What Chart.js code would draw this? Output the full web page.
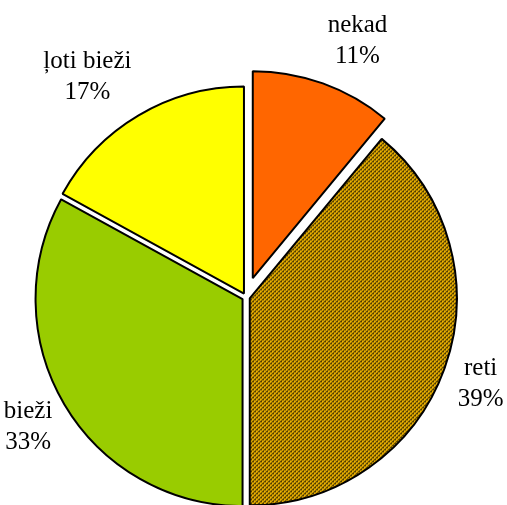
<!DOCTYPE html>
<html>
<head>
<meta charset="utf-8">
<script src="https://cdn.jsdelivr.net/npm/chart.js@4.4.1/dist/chart.umd.min.js"></script>
<style>
  html, body { margin: 0; padding: 0; background: #fff; }
  #wrap { width: 507px; height: 505px; }
</style>
</head>
<body>
<div id="wrap"><canvas id="chart" width="507" height="505"></canvas></div>
<script>
const categories = ['nekad', 'reti', 'bieži', 'ļoti bieži']
const shares = [11, 39, 33, 17]
const sliceColors = ['#FF6600', 'hatch', '#99CC00', '#FFFF00']
const explode = [20, 4, 4, 4]

// fine diagonal hatch for the "reti" slice
const hatch = () => {
  const tile = document.createElement('canvas')
  tile.width = 4
  tile.height = 4
  const t = tile.getContext('2d')
  t.fillStyle = '#EDB200'
  t.fillRect(0, 0, 4, 4)
  t.fillStyle = '#2e2400'
  for (let x = 0; x < 4; x++) {
    for (let y = 0; y < 4; y++) {
      const d = (x + y) % 4
      if (d === 0 || (d === 1 && y % 2 === 0)) t.fillRect(x, y, 1, 1)
    }
  }
  return t.createPattern(tile, 'repeat')
}

const bg = sliceColors.map(c => c === 'hatch' ? hatch() : c)

// pull slices out like Excel does, without Chart.js growing the radius
const explodeSlices = {
  id: 'explodeSlices',
  beforeDatasetDraw(chart, args) {
    const ctx = chart.ctx
    args.meta.data.forEach((arc, i) => {
      const mid = (arc.startAngle + arc.endAngle) / 2
      ctx.save()
      ctx.translate(Math.cos(mid) * explode[i], Math.sin(mid) * explode[i])
      arc.draw(ctx)
      ctx.restore()
    })
    return false
  }
}

const outsideLabels = {
  id: 'outsideLabels',
  afterDatasetsDraw(chart, args, opts) {
    const ctx = chart.ctx
    const meta = chart.getDatasetMeta(0)
    const data = chart.data.datasets[0].data
    const total = data.reduce((a, b) => a + b, 0)
    ctx.save()
    ctx.font = opts.font
    ctx.fillStyle = '#000'
    ctx.textAlign = 'center'
    ctx.textBaseline = 'middle'
    meta.data.forEach((arc, i) => {
      const mid = (arc.startAngle + arc.endAngle) / 2
      const dx = Math.cos(mid)
      const dy = Math.sin(mid)
      const lines = [chart.data.labels[i], Math.round(data[i] / total * 100) + '%']
      const w = Math.max(...lines.map(l => ctx.measureText(l).width))
      const h = lines.length * opts.lineHeight
      const dist = arc.outerRadius + explode[i] + opts.gap
      const cx = arc.x + dx * dist + Math.sign(dx) * w / 2
      const cy = arc.y + dy * dist + dy * h / 2
      lines.forEach((l, k) => {
        ctx.fillText(l, cx, cy - h / 2 + opts.lineHeight * (k + 0.5))
      })
    })
    ctx.restore()
  }
}

new Chart(document.getElementById('chart'), {
  type: 'pie',
  data: {
    labels: categories,
    datasets: [{
      data: shares,
      backgroundColor: bg,
      borderColor: '#000',
      borderWidth: 2,
      radius: 207,
      clip: false,
    }]
  },
  options: {
    responsive: false,
    animation: false,
    layout: { padding: { left: 0, right: 15, top: 89, bottom: 0 } },
    plugins: {
      legend: { display: false },
      tooltip: { enabled: false },
      outsideLabels: { font: '25px "Liberation Serif"', lineHeight: 31, gap: 14 },
    }
  },
  plugins: [explodeSlices, outsideLabels],
})
</script>
</body>
</html>
